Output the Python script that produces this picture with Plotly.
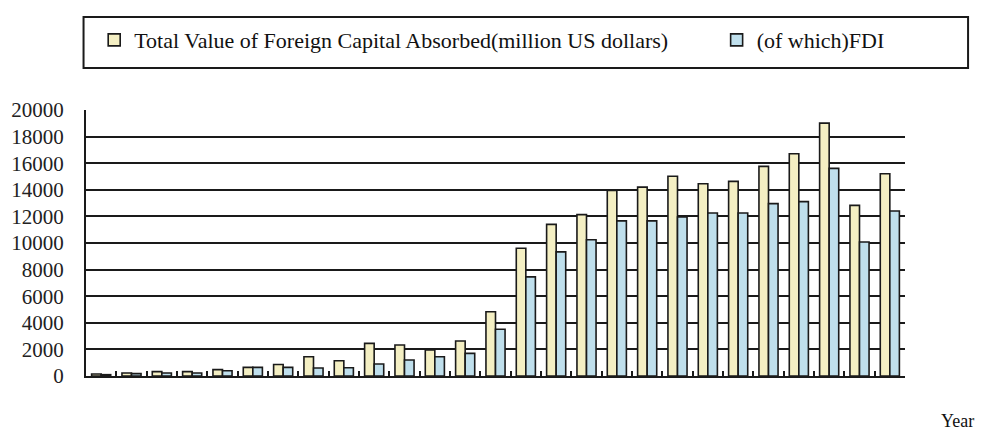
import plotly.graph_objects as go

# Annual series, million US dollars
years = [str(y) for y in range(1985, 2012)]
total_capital = [150, 230, 330, 330, 480, 650, 870, 1450, 1150, 2450,
                 2330, 1950, 2630, 4830, 9600, 11400, 12130, 13960, 14200, 15020,
                 14460, 14630, 15760, 16710, 19010, 12830, 15210]
fdi = [100, 180, 230, 230, 400, 650, 650, 600, 620, 900,
       1200, 1450, 1700, 3520, 7450, 9330, 10250, 11660, 11660, 11960,
       12260, 12260, 12960, 13110, 15610, 10080, 12410]

y_ticks = list(range(0, 20001, 2000))
grid_vals = y_ticks[1:-1]

SERIF = "Liberation Serif"
EDGE = "#1a1a1a"

fig = go.Figure()
fig.add_trace(go.Bar(
    x=years, y=total_capital,
    name="Total Value of Foreign Capital Absorbed(million US dollars)",
    marker=dict(color="#f4efc3", line=dict(color=EDGE, width=1.6)),
    legend="legend",
))
fig.add_trace(go.Bar(
    x=years, y=fdi,
    name="(of which)FDI",
    marker=dict(color="#bfdfec", line=dict(color=EDGE, width=1.6)),
    legend="legend2",
))

legend_style = dict(
    y=1.263, xanchor="left", yanchor="middle",
    orientation="h", bgcolor="rgba(0,0,0,0)", borderwidth=0,
    font=dict(family=SERIF, size=22, color="#111"),
)

fig.update_layout(
    width=992, height=432,
    margin=dict(l=86, r=87, t=110, b=56),
    paper_bgcolor="white", plot_bgcolor="white",
    barmode="group", bargap=0.37, bargroupgap=0,
    font=dict(family=SERIF, color="#111"),
    showlegend=True,
    legend=dict(x=0.01, **legend_style),
    legend2=dict(x=0.77, **legend_style),
    shapes=[dict(
        type="rect", xref="paper", yref="paper",
        x0=-0.003, x1=1.077, y0=1.158, y1=1.35,
        line=dict(color=EDGE, width=2), fillcolor="rgba(0,0,0,0)",
    )],
    annotations=[dict(
        text="Year", xref="paper", yref="paper",
        x=1.064, y=-0.17, xanchor="center", yanchor="middle",
        showarrow=False, font=dict(family=SERIF, size=18, color="#111"),
    )],
)

fig.update_xaxes(
    type="category", showgrid=False, showticklabels=False,
    showline=True, linecolor=EDGE, linewidth=2,
    ticks="inside", tickson="boundaries", ticklen=5,
    tickcolor=EDGE, tickwidth=1.5,
)
fig.update_yaxes(
    range=[0, 20000], tickmode="array", tickvals=y_ticks,
    ticktext=[str(v) for v in y_ticks],
    showgrid=False, zeroline=False,
    showline=True, linecolor=EDGE, linewidth=2,
    ticks="inside", ticklen=6, tickcolor=EDGE, tickwidth=1.5,
    ticklabelstandoff=16,
    tickfont=dict(family=SERIF, size=21, color="#222"),
    minor=dict(tickvals=grid_vals, showgrid=True, gridcolor=EDGE,
               gridwidth=1.6, ticks=""),
)

fig.write_html("out.html")
